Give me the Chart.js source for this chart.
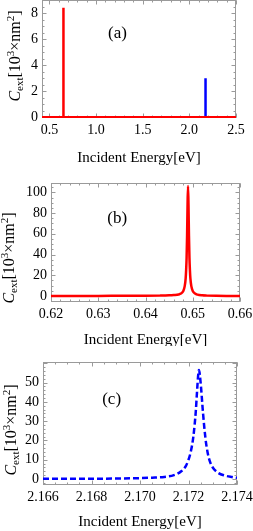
<!DOCTYPE html>
<html>
<head>
<meta charset="utf-8">
<script src="https://cdn.jsdelivr.net/npm/chart.js@4.4.1/dist/chart.umd.min.js"></script>
<style>
  body { margin: 0; background: #fff; width: 253px; height: 531px; overflow: hidden; }
  canvas { display: block; }
</style>
</head>
<body>
<canvas id="chartA" width="253" height="166"></canvas>
<canvas id="chartB" width="253" height="180"></canvas>
<canvas id="chartC" width="253" height="185"></canvas>
<script>
// (a) whole range, coarse sampling
const energyA_red = [0.42, 0.6470, 0.6490, 0.6510, 2.5];
const cextA_red = [0, 0, 8.4, 0, 0];
const energyA_blue = [0.42, 2.1705, 2.1724, 2.1743, 2.5];
const cextA_blue = [0, 0, 3.0, 0, 0];
const xTicksA = [0.5, 1.0, 1.5, 2.0, 2.5];
const yTicksA = [0, 2, 4, 6, 8];

// (b) zoom on the low-energy resonance
const energyB = [0.620, 0.630, 0.640, 0.643, 0.645, 0.646, 0.647, 0.6475, 0.648, 0.6483, 0.6485,
  0.6486, 0.6487, 0.6488, 0.6489, 0.6490, 0.6491, 0.6492, 0.6493, 0.6494, 0.6495, 0.6497,
  0.6500, 0.6505, 0.651, 0.652, 0.653, 0.655, 0.658, 0.660];
const cextB = [0.05, 0.1, 0.2, 0.35, 0.6, 0.9, 1.4, 2.3, 4.8, 9.5, 17,
  25, 37, 58, 88, 106, 88, 58, 37, 25, 17, 9.5,
  4.8, 2.3, 1.3, 0.6, 0.35, 0.15, 0.08, 0.06];
const xTicksB = [0.62, 0.63, 0.64, 0.65, 0.66];
const yTicksB = [0, 20, 40, 60, 80, 100];

// (c) zoom on the high-energy resonance
const energyC = [2.1660, 2.1680, 2.1690, 2.1700, 2.1705, 2.1710, 2.1714, 2.1717, 2.1719, 2.1720,
  2.1721, 2.1722, 2.1723, 2.17235, 2.1724, 2.17243, 2.1725, 2.1726, 2.1727, 2.1728,
  2.1729, 2.1730, 2.1732, 2.1735, 2.1738, 2.1740];
const cextC = [0.1, 0.15, 0.25, 0.45, 0.7, 1.1, 2.0, 4.0, 7, 10,
  14.5, 22, 35, 45, 54, 56.6, 50, 34, 21, 13,
  8.5, 6, 3.4, 1.8, 1.0, 0.6];
const xTicksC = [2.166, 2.168, 2.170, 2.172, 2.174];
const yTicksC = [0, 10, 20, 30, 40, 50];

const serif = "'Liberation Serif', 'Times New Roman', serif";
const W = 253;

function pts(xs, ys) {
  return xs.map((x, i) => ({ x: x, y: ys[i] }));
}

// frame with inward ticks on all sides, panel tag and axis titles
const framePlugin = {
  id: 'frame',
  beforeDatasetsDraw(chart, args, o) {
    const ctx = chart.ctx;
    const a = chart.chartArea;
    const xs = chart.scales.x, ys = chart.scales.y;
    const l = Math.round(a.left) + 0.5, r = Math.round(a.right) - 0.5;
    const t = Math.round(a.top) + 0.5, b = Math.round(a.bottom) - 0.5;
    ctx.save();
    ctx.strokeStyle = '#9a9a9a';
    ctx.lineWidth = 1;
    ctx.strokeRect(l, t, r - l, b - t);
    ctx.beginPath();
    const mark = (scale, step, len) => {
      const n0 = Math.ceil(scale.min / step - 1e-6), n1 = Math.floor(scale.max / step + 1e-6);
      for (let n = n0; n <= n1; n++) {
        const p = Math.round(scale.getPixelForValue(n * step)) + 0.5;
        if (scale === xs) {
          ctx.moveTo(p, b); ctx.lineTo(p, b - len);
          ctx.moveTo(p, t); ctx.lineTo(p, t + len);
        } else {
          ctx.moveTo(l, p); ctx.lineTo(l + len, p);
          ctx.moveTo(r, p); ctx.lineTo(r - len, p);
        }
      }
    };
    mark(xs, o.xMinor, 2);
    mark(ys, o.yMinor, 2);
    mark(xs, o.xMajor, 4);
    mark(ys, o.yMajor, 4);
    ctx.stroke();
    ctx.restore();
  },
  afterDraw(chart, args, o) {
    const ctx = chart.ctx;
    const a = chart.chartArea;
    ctx.save();
    ctx.fillStyle = '#000';
    // panel tag
    ctx.font = '17px ' + serif;
    ctx.textAlign = 'center';
    ctx.textBaseline = 'middle';
    ctx.fillText(o.tag, chart.scales.x.getPixelForValue(o.tagAt[0]), chart.scales.y.getPixelForValue(o.tagAt[1]));
    // x title
    ctx.font = '15px ' + serif;
    ctx.fillText('Incident Energy[eV]', (a.left + a.right) / 2, o.xTitleY);
    // y title with sub/superscripts
    const parts = [
      { s: 'C', f: 'italic 16px ' + serif, dy: 0 },
      { s: 'ext', f: '11px ' + serif, dy: 3 },
      { s: '[10', f: '16px ' + serif, dy: 0 },
      { s: '3', f: '11px ' + serif, dy: -6 },
      { s: '\u00d7nm', f: '16px ' + serif, dy: 0 },
      { s: '2', f: '11px ' + serif, dy: -6 },
      { s: ']', f: '16px ' + serif, dy: 0 }
    ];
    let total = 0;
    parts.forEach(p => { ctx.font = p.f; p.w = ctx.measureText(p.s).width; total += p.w; });
    ctx.translate(o.yTitle[0], o.yTitle[1]);
    ctx.rotate(-Math.PI / 2);
    ctx.textAlign = 'left';
    ctx.textBaseline = 'alphabetic';
    let x = -total / 2;
    parts.forEach(p => { ctx.font = p.f; ctx.fillText(p.s, x, 5 + p.dy); x += p.w; });
    ctx.restore();
  }
};

function makeChart(id, H, frame, datasets, xr, yr, fr) {
  const tickFont = { family: serif, size: 14 };
  new Chart(document.getElementById(id), {
    type: 'line',
    data: { datasets: datasets },
    options: {
      responsive: false,
      animation: false,
      parsing: false,
      layout: { padding: { left: 0, top: frame.t, right: W - frame.r, bottom: 0 } },
      elements: { point: { radius: 0 } },
      plugins: { legend: { display: false }, tooltip: { enabled: false }, frame: fr },
      scales: {
        x: {
          type: 'linear', bounds: 'data', min: xr.min, max: xr.max,
          afterBuildTicks: s => { s.ticks = xr.ticks.map(v => ({ value: v })); },
          afterFit: s => { s.height = H - frame.b; s.paddingLeft = 0; s.paddingRight = 0; },
          ticks: { callback: v => v.toFixed(xr.dec), font: tickFont, color: '#000', padding: 4, maxRotation: 0, autoSkip: false },
          grid: { display: false, drawTicks: false },
          border: { display: false }
        },
        y: {
          type: 'linear', bounds: 'data', min: yr.min, max: yr.max,
          afterBuildTicks: s => { s.ticks = yr.ticks.map(v => ({ value: v })); },
          afterFit: s => { s.width = frame.l; s.paddingTop = 0; s.paddingBottom = 0; },
          ticks: { callback: v => String(v), font: tickFont, color: '#000', padding: 4, autoSkip: false },
          grid: { display: false, drawTicks: false },
          border: { display: false }
        }
      }
    },
    plugins: [framePlugin]
  });
}

makeChart('chartA', 166, { l: 42, r: 236, t: 0, b: 118 }, [
  { data: pts(energyA_red, cextA_red), borderColor: '#ff0000', borderWidth: 2.5, tension: 0, order: 0 },
  { data: pts(energyA_blue, cextA_blue), borderColor: '#0000ff', borderWidth: 2.5, tension: 0, order: 1 }
], { min: 0.42, max: 2.5, ticks: xTicksA, dec: 1 },
   { min: -0.05, max: 9.0, ticks: yTicksA },
   { tag: '(a)', tagAt: [1.23, 6.4], xTitleY: 158, yTitle: [15, 56], xMajor: 0.5, xMinor: 0.1, yMajor: 2, yMinor: 0.5 });

makeChart('chartB', 180, { l: 51, r: 240, t: 17, b: 136 }, [
  { data: pts(energyB, cextB), borderColor: '#ff0000', borderWidth: 2.5, cubicInterpolationMode: 'monotone' }
], { min: 0.62, max: 0.66, ticks: xTicksB, dec: 2 },
   { min: -5.8, max: 109, ticks: yTicksB },
   { tag: '(b)', tagAt: [0.634, 75], xTitleY: 174, yTitle: [9, 92], xMajor: 0.01, xMinor: 0.002, yMajor: 20, yMinor: 5 });

makeChart('chartC', 185, { l: 43, r: 237, t: 16, b: 139 }, [
  { data: pts(energyC, cextC), borderColor: '#0000ff', borderWidth: 2.5, borderDash: [6, 3], cubicInterpolationMode: 'monotone' }
], { min: 2.166, max: 2.174, ticks: xTicksC, dec: 3 },
   { min: -3.1, max: 60.7, ticks: yTicksC },
   { tag: '(c)', tagAt: [2.16883, 41], xTitleY: 176, yTitle: [11, 84], xMajor: 0.002, xMinor: 0.0005, yMajor: 10, yMinor: 2 });
</script>
</body>
</html>
